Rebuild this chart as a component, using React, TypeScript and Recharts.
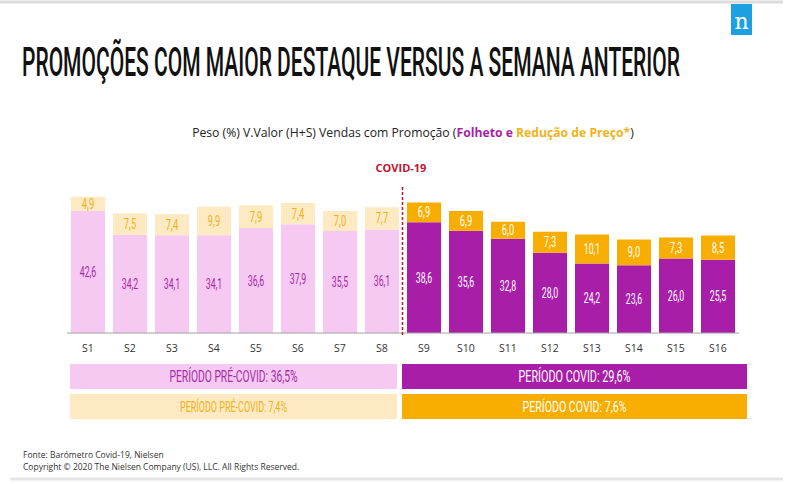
import { BarChart, Bar, XAxis, YAxis, Cell, LabelList } from 'recharts';

const WEEKS = ['S1', 'S2', 'S3', 'S4', 'S5', 'S6', 'S7', 'S8', 'S9', 'S10', 'S11', 'S12', 'S13', 'S14', 'S15', 'S16'];
const FOLHETO = [42.6, 34.2, 34.1, 34.1, 36.6, 37.9, 35.5, 36.1, 38.6, 35.6, 32.8, 28.0, 24.2, 23.6, 26.0, 25.5];
const REDUCAO = [4.9, 7.5, 7.4, 9.9, 7.9, 7.4, 7.0, 7.7, 6.9, 6.9, 6.0, 7.3, 10.1, 9.0, 7.3, 8.5];
const COVID_START = 8; // index of S9

const FOLHETO_AVG = [36.5, 29.6]; // pre-covid, covid
const REDUCAO_AVG = [7.4, 7.6];

const PINK = '#f6c9f2';
const PURPLE = '#a91ea9';
const CREAM = '#fde9c2';
const ORANGE = '#f8ae00';
const PURPLE_TXT = '#a52aa5';
const YELLOW_TXT = '#f0b21a';

const data = WEEKS.map((w, i) => ({ week: w, folheto: FOLHETO[i], reducao: REDUCAO[i] }));

const fmt = (v: number) => v.toFixed(1).replace('.', ',');
const COND = "Roboto, 'DejaVu Sans', sans-serif";

function makeLabel(preColor: string, covidColor: string) {
  return (props: any) => {
    const { x, y, width, height, value, index } = props;
    const s = fmt(value);
    return (
      <text
        x={x + width / 2}
        y={y + height / 2}
        dy="0.36em"
        textAnchor="middle"
        fill={index < COVID_START ? preColor : covidColor}
        fontFamily={COND}
        fontSize={14}
        textLength={s.length * 4.1}
        lengthAdjust="spacingAndGlyphs"
      >
        {s}
      </text>
    );
  };
}

function Box({ x, y, w, bg, color, text, size, len }: any) {
  return (
    <g>
      <rect x={x} y={y} width={w} height={25} fill={bg} />
      <text
        x={x + w / 2} y={y + 12.5} dy="0.36em" textAnchor="middle" fill={color}
        fontFamily={COND} fontSize={size} textLength={len} lengthAdjust="spacingAndGlyphs"
      >
        {text}
      </text>
    </g>
  );
}

export default function App() {
  return (
    <div style={{ position: 'fixed', left: 0, top: 0, width: 810, height: 484, background: '#fff', overflow: 'hidden' }}>
      <BarChart
        width={810}
        height={484}
        data={data}
        margin={{ top: 189.5, right: 71, bottom: 131, left: 67 }}
        barSize={34}
        style={{ position: 'absolute', left: 0, top: 0 }}
      >
        <XAxis
          dataKey="week"
          height={20}
          tickLine={false}
          tickSize={0}
          tickMargin={12}
          axisLine={{ stroke: '#a0a0a0' }}
          tick={{ fill: '#333', fontSize: 10.5, fontFamily: "'Open Sans', sans-serif" }}
          interval={0}
        />
        <YAxis hide domain={[0, 50]} />
        <Bar dataKey="folheto" stackId="a" isAnimationActive={false}>
          {data.map((_, i) => (
            <Cell key={`f-${i}`} fill={i < COVID_START ? PINK : PURPLE} />
          ))}
          <LabelList dataKey="folheto" content={makeLabel(PURPLE_TXT, '#fff')} />
        </Bar>
        <Bar dataKey="reducao" stackId="a" isAnimationActive={false}>
          {data.map((_, i) => (
            <Cell key={`r-${i}`} fill={i < COVID_START ? CREAM : ORANGE} />
          ))}
          <LabelList dataKey="reducao" content={makeLabel(YELLOW_TXT, '#fff')} />
        </Bar>
      </BarChart>

      <svg width={810} height={484} style={{ position: 'absolute', left: 0, top: 0, pointerEvents: 'none' }}>
        <line x1={0} y1={2} x2={783} y2={2} stroke="#dcdcdc" strokeWidth={3} />
        <line x1={10} y1={479} x2={783} y2={479} stroke="#e6e6e6" strokeWidth={3} />
        <rect x={731} y={4} width={21} height={31} fill="#1ba1e2" />
        <text x={741.5} y={29} textAnchor="middle" fill="#fff" fontFamily="'DejaVu Serif', serif" fontSize={22}>n</text>
        <text
          x={22} y={76} textLength={658} lengthAdjust="spacingAndGlyphs"
          fill="#111" fontFamily={COND} fontWeight={500} fontSize={40}
        >
          PROMOÇÕES COM MAIOR DESTAQUE VERSUS A SEMANA ANTERIOR
        </text>
        <text x={413} y={137} textAnchor="middle" fill="#222" fontFamily="'Open Sans', sans-serif" fontSize={12.2}>
          Peso (%) V.Valor (H+S) Vendas com Promoção (
          <tspan fill={PURPLE} fontWeight="bold">Folheto e </tspan>
          <tspan fill={YELLOW_TXT} fontWeight="bold">Redução de Preço*</tspan>)
        </text>
        <text x={401} y={172} textAnchor="middle" fill="#c1122f" fontWeight="bold" fontFamily="'Open Sans', sans-serif" fontSize={11}>
          COVID-19
        </text>
        <line x1={402.5} y1={187} x2={402.5} y2={335} stroke="#c1122f" strokeWidth={1.5} strokeDasharray="3 2" />
        <text x={23} y={458} fill="#333" fontFamily="'Open Sans', sans-serif" fontSize={8.5}>Fonte: Barómetro Covid-19, Nielsen</text>
        <text x={23} y={470} fill="#333" fontFamily="'Open Sans', sans-serif" fontSize={8.5}>
          Copyright © 2020 The Nielsen Company (US), LLC. All Rights Reserved.
        </text>

        <Box x={70} y={364} w={327} bg={PINK} color={PURPLE_TXT} size={16} len={128} text={`PERÍODO PRÉ-COVID: ${fmt(FOLHETO_AVG[0])}%`} />
        <Box x={402} y={364} w={345} bg={PURPLE} color="#fff" size={16} len={112} text={`PERÍODO COVID: ${fmt(FOLHETO_AVG[1])}%`} />
        <Box x={70} y={394} w={327} bg={CREAM} color={YELLOW_TXT} size={14} len={107} text={`PERÍODO PRÉ-COVID: ${fmt(REDUCAO_AVG[0])}%`} />
        <Box x={402} y={394} w={345} bg={ORANGE} color="#fff" size={15} len={104} text={`PERÍODO COVID: ${fmt(REDUCAO_AVG[1])}%`} />
      </svg>
    </div>
  );
}
